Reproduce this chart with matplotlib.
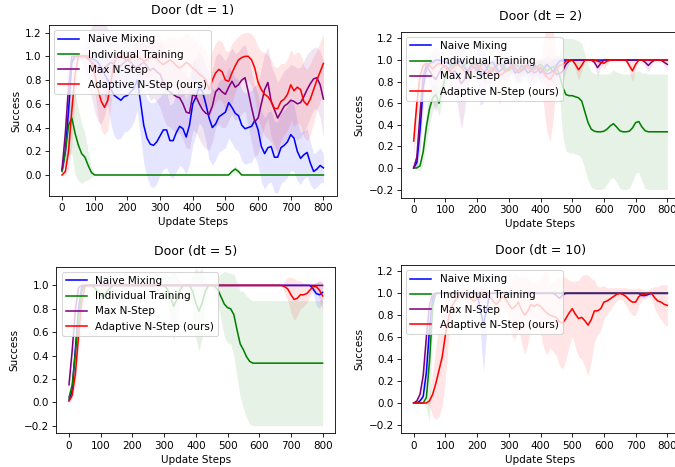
import matplotlib
matplotlib.use("Agg")
import numpy as np
import matplotlib.pyplot as plt

steps = np.arange(0, 801, 10)
labels = ["Naive Mixing", "Individual Training", "Max N-Step", "Adaptive N-Step (ours)"]
colors = ["blue", "green", "purple", "red"]

# ---- Door (dt = 1) ----
dt1_naive = [0.04, 0.2, 0.55, 0.95, 1.0, 1.0, 1.0, 1.0, 1.0, 0.98,
             0.97, 0.95, 0.9, 0.85, 0.8, 0.72, 0.67, 0.65, 0.63, 0.66,
             0.67, 0.70, 0.73, 0.80, 0.62, 0.42, 0.31, 0.26, 0.25, 0.28,
             0.33, 0.38, 0.38, 0.29, 0.29, 0.36, 0.41, 0.39, 0.32, 0.42,
             0.60, 0.66, 0.74, 0.70, 0.60, 0.48, 0.40, 0.43, 0.49, 0.51,
             0.53, 0.61, 0.57, 0.52, 0.50, 0.42, 0.39, 0.40, 0.41, 0.46,
             0.38, 0.24, 0.18, 0.23, 0.24, 0.15, 0.15, 0.23, 0.25, 0.28,
             0.34, 0.31, 0.20, 0.14, 0.17, 0.19, 0.10, 0.03, 0.05, 0.08,
             0.06]
dt1_naive_std = [0.02, 0.1, 0.3, 0.1, 0.02, 0.02, 0.02, 0.02, 0.03, 0.05,
                 0.06, 0.08, 0.12, 0.18, 0.22, 0.3, 0.35, 0.35, 0.32, 0.3,
                 0.3, 0.3, 0.28, 0.25, 0.3, 0.32, 0.33, 0.35, 0.36, 0.35,
                 0.33, 0.33, 0.32, 0.3, 0.32, 0.33, 0.33, 0.33, 0.32, 0.33,
                 0.35, 0.32, 0.3, 0.3, 0.32, 0.35, 0.32, 0.3, 0.3, 0.3,
                 0.3, 0.3, 0.3, 0.3, 0.3, 0.3, 0.3, 0.3, 0.3, 0.3,
                 0.3, 0.3, 0.3, 0.3, 0.3, 0.3, 0.3, 0.3, 0.3, 0.3,
                 0.3, 0.28, 0.25, 0.22, 0.2, 0.2, 0.18, 0.15, 0.15, 0.15,
                 0.12]
dt1_indiv = [0.03, 0.2, 0.42, 0.48, 0.35, 0.25, 0.18, 0.15, 0.08, 0.02] + [0.0] * 42 \
            + [0.03, 0.05, 0.03] + [0.0] * 26
dt1_indiv_std = [0.01, 0.1, 0.25, 0.3, 0.35, 0.3, 0.25, 0.2, 0.12, 0.04] + [0.0] * 42 \
                + [0.02, 0.03, 0.02] + [0.0] * 26
dt1_max = [0.05, 0.35, 0.75, 1.0, 1.0, 1.0, 1.0, 1.0, 0.98, 0.95,
           0.93, 0.9, 0.88, 0.9, 0.93, 0.95, 0.93, 0.9, 0.92, 0.95,
           0.97, 0.95, 0.92, 0.9, 0.93, 0.95, 0.92, 0.88, 0.9, 0.87,
           0.85, 0.78, 0.72, 0.7, 0.68, 0.66, 0.65, 0.6, 0.53, 0.52,
           0.68, 0.66, 0.6, 0.55, 0.52, 0.51, 0.58, 0.70, 0.73, 0.70,
           0.68, 0.74, 0.79, 0.74, 0.76, 0.80, 0.82, 0.70, 0.57, 0.45,
           0.48, 0.60, 0.72, 0.78, 0.62, 0.55, 0.48, 0.53, 0.58, 0.60,
           0.63, 0.62, 0.60, 0.61, 0.66, 0.72, 0.77, 0.81, 0.82, 0.76,
           0.64]
dt1_max_std = [0.02, 0.2, 0.3, 0.05, 0.02, 0.02, 0.05, 0.1, 0.2, 0.3,
               0.4, 0.45, 0.45, 0.4, 0.3, 0.25, 0.25, 0.2, 0.2, 0.2,
               0.2, 0.2, 0.22, 0.22, 0.2, 0.2, 0.22, 0.25, 0.25, 0.25,
               0.28, 0.3, 0.3, 0.3, 0.3, 0.3, 0.3, 0.3, 0.3, 0.3,
               0.3, 0.3, 0.3, 0.3, 0.3, 0.3, 0.3, 0.3, 0.3, 0.3,
               0.28, 0.28, 0.28, 0.28, 0.28, 0.28, 0.28, 0.3, 0.3, 0.3,
               0.3, 0.3, 0.3, 0.3, 0.3, 0.3, 0.3, 0.3, 0.3, 0.3,
               0.3, 0.3, 0.3, 0.3, 0.3, 0.3, 0.28, 0.26, 0.26, 0.28,
               0.32]
dt1_adapt = [0.0, 0.03, 0.2, 0.55, 0.85, 1.0, 1.0, 1.0, 1.0, 0.95,
             0.85, 0.72, 0.62, 0.57, 0.63, 0.8, 0.95, 1.0, 1.0, 0.98,
             0.97, 0.98, 1.0, 1.0, 0.98, 0.96, 0.97, 0.99, 1.0, 0.98,
             0.95, 0.93, 0.95, 0.97, 0.95, 0.92, 0.9, 0.92, 0.95, 0.93,
             0.9, 0.88, 0.85, 0.83, 0.8, 0.72, 0.8, 0.86, 0.89, 0.87,
             0.80, 0.79, 0.86, 0.92, 0.97, 0.99, 1.0, 1.0, 0.97, 0.9,
             0.78, 0.72, 0.68, 0.66, 0.62, 0.56, 0.56, 0.62, 0.64, 0.68,
             0.76, 0.71, 0.74, 0.72, 0.62, 0.59, 0.64, 0.72, 0.80, 0.87,
             0.94]
dt1_adapt_std = [0.01, 0.03, 0.15, 0.3, 0.2, 0.02, 0.02, 0.02, 0.05, 0.1,
                 0.15, 0.22, 0.25, 0.23, 0.25, 0.2, 0.1, 0.05, 0.05, 0.07,
                 0.08, 0.08, 0.1, 0.12, 0.15, 0.15, 0.15, 0.15, 0.18, 0.2,
                 0.2, 0.2, 0.2, 0.2, 0.22, 0.22, 0.25, 0.25, 0.25, 0.25,
                 0.25, 0.25, 0.25, 0.25, 0.25, 0.25, 0.25, 0.25, 0.25, 0.25,
                 0.25, 0.25, 0.25, 0.22, 0.2, 0.2, 0.2, 0.2, 0.22, 0.25,
                 0.3, 0.32, 0.35, 0.35, 0.35, 0.35, 0.35, 0.32, 0.3, 0.3,
                 0.3, 0.3, 0.3, 0.3, 0.3, 0.3, 0.3, 0.28, 0.25, 0.25,
                 0.25]

# ---- Door (dt = 2) ----
dt2_naive = [0.0, 0.05, 0.35, 0.75, 0.92, 0.97, 0.98, 1.0, 1.0, 0.99,
             0.98, 0.97, 0.95, 0.97, 0.99, 0.98, 0.93, 0.90, 0.94, 0.97,
             0.95, 0.88, 0.86, 0.92, 0.97, 0.98, 0.93, 0.89, 0.92, 0.97,
             0.98, 0.94, 0.88, 0.90, 0.95, 0.93, 0.88, 0.90, 0.95, 0.93,
             0.88, 0.92, 0.96, 0.93, 0.89, 0.95, 0.99, 1.0, 1.0, 1.0] + [1.0] * 31
dt2_naive_std = [0.01, 0.05, 0.2, 0.2, 0.1, 0.05, 0.03, 0.02, 0.02, 0.03,
                 0.05, 0.06, 0.08, 0.06, 0.04, 0.05, 0.08, 0.1, 0.08, 0.06,
                 0.15, 0.3, 0.25, 0.1, 0.05, 0.04, 0.08, 0.1, 0.08, 0.06,
                 0.05, 0.08, 0.1, 0.1, 0.06, 0.08, 0.1, 0.1, 0.06, 0.08,
                 0.1, 0.1, 0.08, 0.1, 0.12, 0.1, 0.05, 0.0, 0.0, 0.0] + [0.0] * 31
dt2_indiv = [0.0, 0.0, 0.02, 0.15, 0.38, 0.55, 0.65, 0.68, 0.6, 0.72,
             0.85, 0.92, 0.95, 0.97, 0.96, 0.93, 0.95, 0.98, 0.97, 0.94,
             0.92, 0.95, 0.98, 0.97, 0.93, 0.91, 0.94, 0.97, 0.96, 0.92,
             0.9, 0.93, 0.96, 0.94, 0.9, 0.92, 0.95, 0.93, 0.91, 0.94,
             0.96, 0.93, 0.9, 0.92, 0.94, 0.93, 0.86, 0.75, 0.68, 0.67,
             0.67, 0.66, 0.65, 0.62, 0.52, 0.42, 0.36, 0.34, 0.335, 0.335,
             0.34, 0.36, 0.39, 0.41, 0.38, 0.345, 0.335, 0.335, 0.34, 0.37,
             0.42, 0.43, 0.38, 0.345, 0.335, 0.335, 0.335, 0.335, 0.335, 0.335,
             0.335]
dt2_indiv_std = [0.0, 0.02, 0.05, 0.12, 0.15, 0.15, 0.12, 0.1, 0.12, 0.1,
                 0.08, 0.06, 0.05, 0.05, 0.06, 0.06, 0.05, 0.05, 0.05, 0.06,
                 0.06, 0.05, 0.05, 0.05, 0.06, 0.06, 0.05, 0.05, 0.05, 0.06,
                 0.06, 0.05, 0.05, 0.05, 0.06, 0.06, 0.05, 0.05, 0.06, 0.06,
                 0.05, 0.05, 0.06, 0.06, 0.05, 0.05, 0.2, 0.45, 0.52, 0.53,
                 0.53, 0.53, 0.53, 0.53, 0.535, 0.535, 0.535, 0.535, 0.535, 0.535,
                 0.53, 0.51, 0.49, 0.5, 0.51, 0.535, 0.535, 0.535, 0.53, 0.5,
                 0.47, 0.47, 0.5, 0.535, 0.535, 0.535, 0.535, 0.535, 0.535, 0.535,
                 0.535]
dt2_max = [0.0, 0.1, 0.5, 0.85, 0.95, 0.9, 0.85, 0.82, 0.88, 0.93,
           0.95, 0.92, 0.88, 0.9, 0.85, 0.78, 0.82, 0.9, 0.95, 0.93,
           0.9, 0.94, 0.97, 0.93, 0.88, 0.9, 0.95, 0.97, 0.93, 0.89,
           0.92, 0.96, 0.93, 0.88, 0.9, 0.94, 0.96, 0.92, 0.88, 0.9,
           0.93, 0.9, 0.87, 0.88, 0.9, 0.87, 0.87, 0.9, 0.96, 0.99,
           1.0, 1.0, 1.0, 1.0, 1.0, 1.0, 1.0, 0.98, 0.93, 0.97,
           1.0, 1.0, 1.0, 1.0, 1.0, 1.0, 1.0, 1.0, 1.0, 1.0,
           1.0, 1.0, 1.0, 0.98, 0.95, 0.98, 1.0, 1.0, 1.0, 0.98,
           0.96]
dt2_max_std = [0.0, 0.1, 0.3, 0.15, 0.08, 0.15, 0.25, 0.3, 0.2, 0.1,
               0.08, 0.1, 0.15, 0.2, 0.3, 0.42, 0.3, 0.15, 0.08, 0.1,
               0.1, 0.08, 0.06, 0.08, 0.1, 0.1, 0.08, 0.06, 0.08, 0.1,
               0.1, 0.08, 0.08, 0.1, 0.1, 0.08, 0.06, 0.08, 0.1, 0.1,
               0.08, 0.1, 0.12, 0.12, 0.12, 0.15, 0.15, 0.12, 0.06, 0.02,
               0.0, 0.0, 0.0, 0.0, 0.0, 0.0, 0.0, 0.03, 0.08, 0.04,
               0.0, 0.0, 0.0, 0.0, 0.0, 0.0, 0.0, 0.0, 0.0, 0.0,
               0.0, 0.0, 0.0, 0.03, 0.06, 0.03, 0.0, 0.0, 0.0, 0.03,
               0.05]
dt2_adapt = [0.25, 0.6, 0.85, 0.95, 0.97, 0.95, 0.92, 0.95, 0.97, 0.96,
             0.93, 0.9, 0.92, 0.95, 0.96, 0.93, 0.9, 0.88, 0.91, 0.94,
             0.96, 0.93, 0.9, 0.88, 0.9, 0.93, 0.9, 0.86, 0.87, 0.9,
             0.93, 0.95, 0.92, 0.9, 0.93, 0.95, 0.93, 0.9, 0.92, 0.94,
             0.92, 0.88, 0.84, 0.82, 0.86, 0.92, 0.95, 0.96, 0.99, 1.0,
             1.0, 0.96, 0.91, 0.95, 1.0, 1.0, 1.0, 1.0, 0.99, 0.98,
             0.97, 0.99, 1.0, 1.0, 1.0, 1.0, 1.0, 1.0, 0.95, 0.90,
             0.96, 1.0, 1.0, 1.0, 1.0, 1.0, 1.0, 1.0, 1.0, 1.0,
             1.0]
dt2_adapt_std = [0.15, 0.2, 0.15, 0.05, 0.05, 0.06, 0.08, 0.06, 0.05, 0.06,
                 0.08, 0.1, 0.08, 0.06, 0.06, 0.08, 0.1, 0.1, 0.08, 0.06,
                 0.06, 0.08, 0.1, 0.12, 0.1, 0.08, 0.15, 0.28, 0.2, 0.1,
                 0.08, 0.06, 0.08, 0.1, 0.08, 0.06, 0.08, 0.1, 0.08, 0.08,
                 0.1, 0.3, 0.5, 0.58, 0.4, 0.1, 0.05, 0.04, 0.02, 0.0,
                 0.0, 0.05, 0.1, 0.05, 0.0, 0.0, 0.0, 0.0, 0.02, 0.03,
                 0.05, 0.03, 0.0, 0.0, 0.0, 0.0, 0.0, 0.02, 0.06, 0.1,
                 0.05, 0.0, 0.0, 0.0, 0.0, 0.0, 0.0, 0.0, 0.0, 0.0,
                 0.0]

# ---- Door (dt = 5) ----
dt5_naive = [0.02, 0.1, 0.45, 0.8, 0.98, 1.0, 1.0, 1.0, 1.0, 1.0] + [1.0] * 67 \
            + [0.97, 0.93, 0.92, 0.94]
dt5_naive_std = [0.01, 0.05, 0.15, 0.15, 0.03, 0.0, 0.0, 0.0, 0.0, 0.0] + [0.0] * 67 \
                + [0.04, 0.1, 0.12, 0.08]
dt5_indiv = [0.04, 0.15, 0.42, 0.72, 0.95, 1.0, 1.0, 1.0, 0.98, 0.95,
             0.92, 0.9, 0.95, 0.98, 1.0, 1.0, 1.0, 1.0, 1.0, 1.0,
             1.0, 1.0, 1.0, 1.0, 1.0, 1.0, 1.0, 1.0, 1.0, 1.0,
             1.0, 0.97, 0.9, 0.82, 0.88, 0.96, 1.0, 1.0, 1.0, 0.95,
             0.85, 0.78, 0.85, 0.95, 1.0, 1.0, 0.99, 0.96, 0.9, 0.84,
             0.81, 0.8, 0.75, 0.62, 0.5, 0.45, 0.39, 0.35, 0.335, 0.335] + [0.335] * 21
dt5_indiv_std = [0.01, 0.05, 0.1, 0.1, 0.05, 0.0, 0.02, 0.05, 0.1, 0.12,
                 0.12, 0.1, 0.06, 0.03, 0.0, 0.0, 0.0, 0.0, 0.0, 0.0,
                 0.0, 0.0, 0.0, 0.0, 0.0, 0.0, 0.0, 0.0, 0.0, 0.0,
                 0.0, 0.1, 0.2, 0.3, 0.2, 0.08, 0.0, 0.0, 0.0, 0.15,
                 0.3, 0.34, 0.3, 0.1, 0.0, 0.0, 0.05, 0.12, 0.2, 0.28,
                 0.3, 0.3, 0.35, 0.4, 0.45, 0.5, 0.52, 0.535, 0.535, 0.535] + [0.535] * 21
dt5_max = [0.15, 0.44, 0.79, 0.98] + [1.0] * 77
dt5_max_std = [0.02, 0.1, 0.1, 0.03] + [0.0] * 77
dt5_adapt = [0.01, 0.06, 0.24, 0.56, 0.85, 0.99] + [1.0] * 62 \
            + [0.99, 0.97, 0.92, 0.88, 0.89, 0.92, 0.92, 0.93, 0.96, 0.99, 0.99, 0.96, 0.91]
dt5_adapt_std = [0.01, 0.03, 0.1, 0.12, 0.08, 0.02] + [0.0] * 62 \
                + [0.05, 0.1, 0.15, 0.18, 0.15, 0.12, 0.1, 0.08, 0.05, 0.03, 0.03, 0.08, 0.12]

# ---- Door (dt = 10) ----
dt10_naive = [0.0, 0.0, 0.02, 0.06, 0.28, 0.68, 0.95, 1.0, 1.0, 1.0] + [1.0] * 10 \
             + [1.0, 0.85, 0.72, 0.85, 1.0, 1.0, 1.0, 1.0, 1.0, 1.0] + [1.0] * 40 \
             + [1.0, 1.0, 0.98, 0.98, 0.99, 1.0, 1.0, 1.0, 1.0, 1.0, 1.0]
dt10_naive_std = [0.0, 0.0, 0.01, 0.03, 0.1, 0.2, 0.05, 0.0, 0.0, 0.0] + [0.0] * 10 \
                 + [0.0, 0.2, 0.44, 0.2, 0.0, 0.0, 0.0, 0.0, 0.0, 0.0] + [0.0] * 40 \
                 + [0.0, 0.0, 0.02, 0.02, 0.01, 0.0, 0.0, 0.0, 0.0, 0.0, 0.0]
dt10_indiv = [0.0, 0.0, 0.0, 0.0, 0.05, 0.38, 0.88, 1.0] + [1.0] * 73
dt10_indiv_std = [0.0, 0.0, 0.0, 0.0, 0.1, 0.55, 0.15, 0.0] + [0.0] * 73
dt10_max = [0.0, 0.02, 0.08, 0.25, 0.6, 0.9, 0.99] + [1.0] * 38 \
           + [0.98, 0.955, 0.985, 1.0] + [1.0] * 32
dt10_max_std = [0.0, 0.01, 0.05, 0.1, 0.2, 0.1, 0.02] + [0.0] * 38 \
               + [0.02, 0.03, 0.02, 0.0] + [0.0] * 32
dt10_adapt = [0.0, 0.0, 0.0, 0.0, 0.0, 0.02, 0.08, 0.18, 0.30, 0.42,
              0.62, 0.78, 0.88, 0.93, 0.97, 1.0, 1.0, 0.98, 0.95, 0.93,
              0.95, 0.98, 1.0, 1.0, 0.97, 0.93, 0.9, 0.93, 0.97, 0.95,
              0.9, 0.86, 0.88, 0.92, 0.85, 0.8, 0.84, 0.9, 0.88, 0.9,
              0.88, 0.85, 0.82, 0.8, 0.79, 0.78, 0.74, 0.73, 0.77, 0.82,
              0.86, 0.81, 0.77, 0.78, 0.75, 0.71, 0.76, 0.84, 0.84, 0.86,
              0.92, 0.93, 0.95, 0.97, 0.99, 1.0, 0.99, 0.97, 0.94, 0.92,
              0.92, 0.97, 0.99, 0.99, 1.0, 1.0, 0.96, 0.93, 0.92, 0.9,
              0.89]
dt10_adapt_std = [0.0, 0.0, 0.0, 0.0, 0.0, 0.05, 0.2, 0.33, 0.42, 0.45,
                  0.4, 0.2, 0.12, 0.08, 0.05, 0.05, 0.06, 0.08, 0.1, 0.1,
                  0.1, 0.08, 0.05, 0.05, 0.08, 0.12, 0.15, 0.12, 0.08, 0.1,
                  0.15, 0.25, 0.3, 0.22, 0.3, 0.36, 0.3, 0.2, 0.22, 0.2,
                  0.25, 0.35, 0.38, 0.3, 0.32, 0.35, 0.4, 0.42, 0.38, 0.3,
                  0.25, 0.3, 0.35, 0.38, 0.42, 0.46, 0.38, 0.28, 0.22, 0.2,
                  0.15, 0.12, 0.1, 0.08, 0.06, 0.05, 0.06, 0.08, 0.1, 0.12,
                  0.12, 0.08, 0.05, 0.04, 0.03, 0.05, 0.1, 0.13, 0.16, 0.18,
                  0.19]

panels = [
    ("Door (dt = 1)", [dt1_naive, dt1_indiv, dt1_max, dt1_adapt],
     [dt1_naive_std, dt1_indiv_std, dt1_max_std, dt1_adapt_std],
     [49, 25, 336.5, 196], (-0.177, 1.264), np.arange(0, 1.21, 0.2)),
    ("Door (dt = 2)", [dt2_naive, dt2_indiv, dt2_max, dt2_adapt],
     [dt2_naive_std, dt2_indiv_std, dt2_max_std, dt2_adapt_std],
     [401, 31.7, 680, 197.7], (-0.276, 1.263), np.arange(-0.2, 1.21, 0.2)),
    ("Door (dt = 5)", [dt5_naive, dt5_indiv, dt5_max, dt5_adapt],
     [dt5_naive_std, dt5_indiv_std, dt5_max_std, dt5_adapt_std],
     [56.3, 266.7, 335.3, 433.3], (-0.265, 1.16), np.arange(-0.2, 1.01, 0.2)),
    ("Door (dt = 10)", [dt10_naive, dt10_indiv, dt10_max, dt10_adapt],
     [dt10_naive_std, dt10_indiv_std, dt10_max_std, dt10_adapt_std],
     [401, 265, 680, 433.3], (-0.276, 1.258), np.arange(-0.2, 1.21, 0.2)),
]

# the figure was drawn at 75 dpi, so default sizes shrink to match
W, H, DPI = 675, 467, 75
fig = plt.figure(figsize=(W / DPI, H / DPI), dpi=DPI)

for title, means, stds, box, ylim, yticks in panels:
    l, t, r, b = box
    ax = fig.add_axes([l / W, 1 - b / H, (r - l) / W, (b - t) / H])
    for m, s, c, lab in zip(means, stds, colors, labels):
        m = np.array(m)
        s = np.array(s)
        ax.plot(steps, m, color=c, label=lab)
        ax.fill_between(steps, m - s, m + s, color=c, alpha=0.1, linewidth=0)
    ax.set_xlim(-40, 840)
    ax.set_ylim(*ylim)
    ax.set_xticks(np.arange(0, 801, 100))
    ax.set_yticks(yticks)
    ax.set_title(title, pad=11)
    ax.set_xlabel("Update Steps")
    ax.set_ylabel("Success")
    ax.legend(loc="upper left")

fig.savefig("out.png", dpi=DPI)
